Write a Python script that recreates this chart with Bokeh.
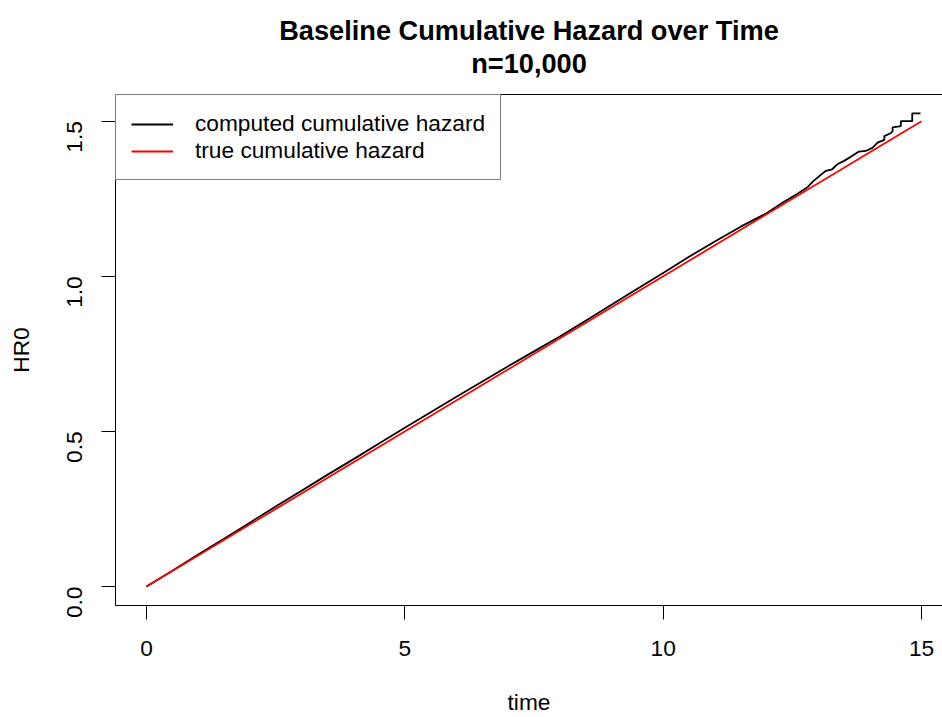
import math
from bokeh.plotting import figure
from bokeh.models import Range1d, FixedTicker, LinearAxis, Title
from bokeh.embed import file_html
from bokeh.resources import INLINE

# ---- data ----
time_computed = [0.0, 0.5, 1.0, 1.5, 2.0, 2.5, 3.0, 3.5, 4.0, 4.5, 5.0, 5.5, 6.0, 6.5,
                 7.0, 7.5, 8.0, 8.5, 9.0, 9.5, 10.0, 10.5, 11.0, 11.5, 12.0, 12.3,
                 12.6, 12.8, 12.9, 13.05, 13.15, 13.27, 13.37, 13.5, 13.63, 13.79,
                 13.92, 14.05, 14.15, 14.28, 14.28, 14.41, 14.44, 14.44, 14.6, 14.6,
                 14.82, 14.82, 14.98]
hazard_computed = [0.0, 0.051, 0.103, 0.154, 0.206, 0.258, 0.309, 0.360, 0.410, 0.461,
                   0.512, 0.562, 0.612, 0.661, 0.710, 0.758, 0.806, 0.857, 0.908, 0.960,
                   1.011, 1.063, 1.112, 1.160, 1.203, 1.236, 1.266, 1.288, 1.306, 1.327,
                   1.340, 1.345, 1.361, 1.372, 1.385, 1.402, 1.404, 1.414, 1.431, 1.440,
                   1.452, 1.462, 1.468, 1.480, 1.484, 1.500, 1.500, 1.525, 1.525]
time_true = [0.0, 15.0]
hazard_true = [0.0, 1.5]

x_ticks = [0, 5, 10, 15]
x_tick_labels = ["0", "5", "10", "15"]
y_ticks = [0.0, 0.5, 1.0, 1.5]
y_tick_labels = ["0.0", "0.5", "1.0", "1.5"]

title_line1 = "Baseline Cumulative Hazard over Time"
title_line2 = "n=10,000"
x_label = "time"
y_label = "HR0"
legend_labels = ["computed cumulative hazard", "true cumulative hazard"]

FONT = "Liberation Sans"
FS = "22.7px"

p = figure(width=942, height=717, output_backend="svg", toolbar_location=None,
           x_range=Range1d(-0.6, 15.406), y_range=Range1d(-0.061, 1.586),
           min_border_left=115, min_border_right=0, min_border_top=93,
           min_border_bottom=110, outline_line_color=None,
           background_fill_color="white", border_fill_color="white")
p.grid.visible = False

p.line(time_computed, hazard_computed, line_color="black", line_width=1.8,
       legend_label=legend_labels[0])
p.line(time_true, hazard_true, line_color="red", line_width=1.8,
       legend_label=legend_labels[1])

# axes
xa = p.xaxis[0]
xa.ticker = FixedTicker(ticks=x_ticks)
xa.major_label_overrides = {t: l for t, l in zip(x_ticks, x_tick_labels)}
ya = p.yaxis[0]
ya.ticker = FixedTicker(ticks=y_ticks)
ya.major_label_overrides = {t: l for t, l in zip(y_ticks, y_tick_labels)}
ya.major_label_orientation = math.pi / 2
for ax in (xa, ya):
    ax.axis_line_color = "black"
    ax.axis_line_width = 1
    ax.major_tick_line_color = "black"
    ax.major_tick_line_width = 1
    ax.major_tick_in = 0
    ax.major_tick_out = 14
    ax.minor_tick_line_color = None
    ax.major_label_text_font = FONT
    ax.major_label_text_font_size = FS
    ax.major_label_text_color = "black"
    ax.axis_label_text_font = FONT
    ax.axis_label_text_font_size = FS
    ax.axis_label_text_font_style = "normal"
    ax.axis_label_text_color = "black"
xa.axis_label = x_label
ya.axis_label = y_label
xa.major_label_standoff = 21
xa.axis_label_standoff = 30
ya.major_label_standoff = 27
ya.axis_label_standoff = 23

# top border of box
top = LinearAxis(ticker=FixedTicker(ticks=[]), axis_line_color="black",
                 major_tick_out=0, major_tick_in=0, minor_tick_out=0,
                 major_tick_line_color=None, minor_tick_line_color=None,
                 major_label_text_font_size="0px", major_label_standoff=0)
p.add_layout(top, "above")

p.add_layout(Title(text=title_line1 + "\n" + title_line2, align="center",
                   text_align="center", vertical_align="top", text_font=FONT,
                   text_font_size="27.2px", text_font_style="bold",
                   text_line_height=1.08, text_color="black", standoff=28), "above")

lg = p.legend[0]
lg.location = "top_left"
lg.margin = 0
lg.padding = 15
lg.spacing = 0
lg.label_height = 24
lg.glyph_height = 24
lg.glyph_width = 42
lg.label_standoff = 22
lg.border_line_color = "black"
lg.border_line_width = 1
lg.background_fill_color = "white"
lg.background_fill_alpha = 1
lg.label_text_font = FONT
lg.label_text_font_size = FS
lg.label_text_color = "black"

open("out.html", "w").write(file_html(p, INLINE))
